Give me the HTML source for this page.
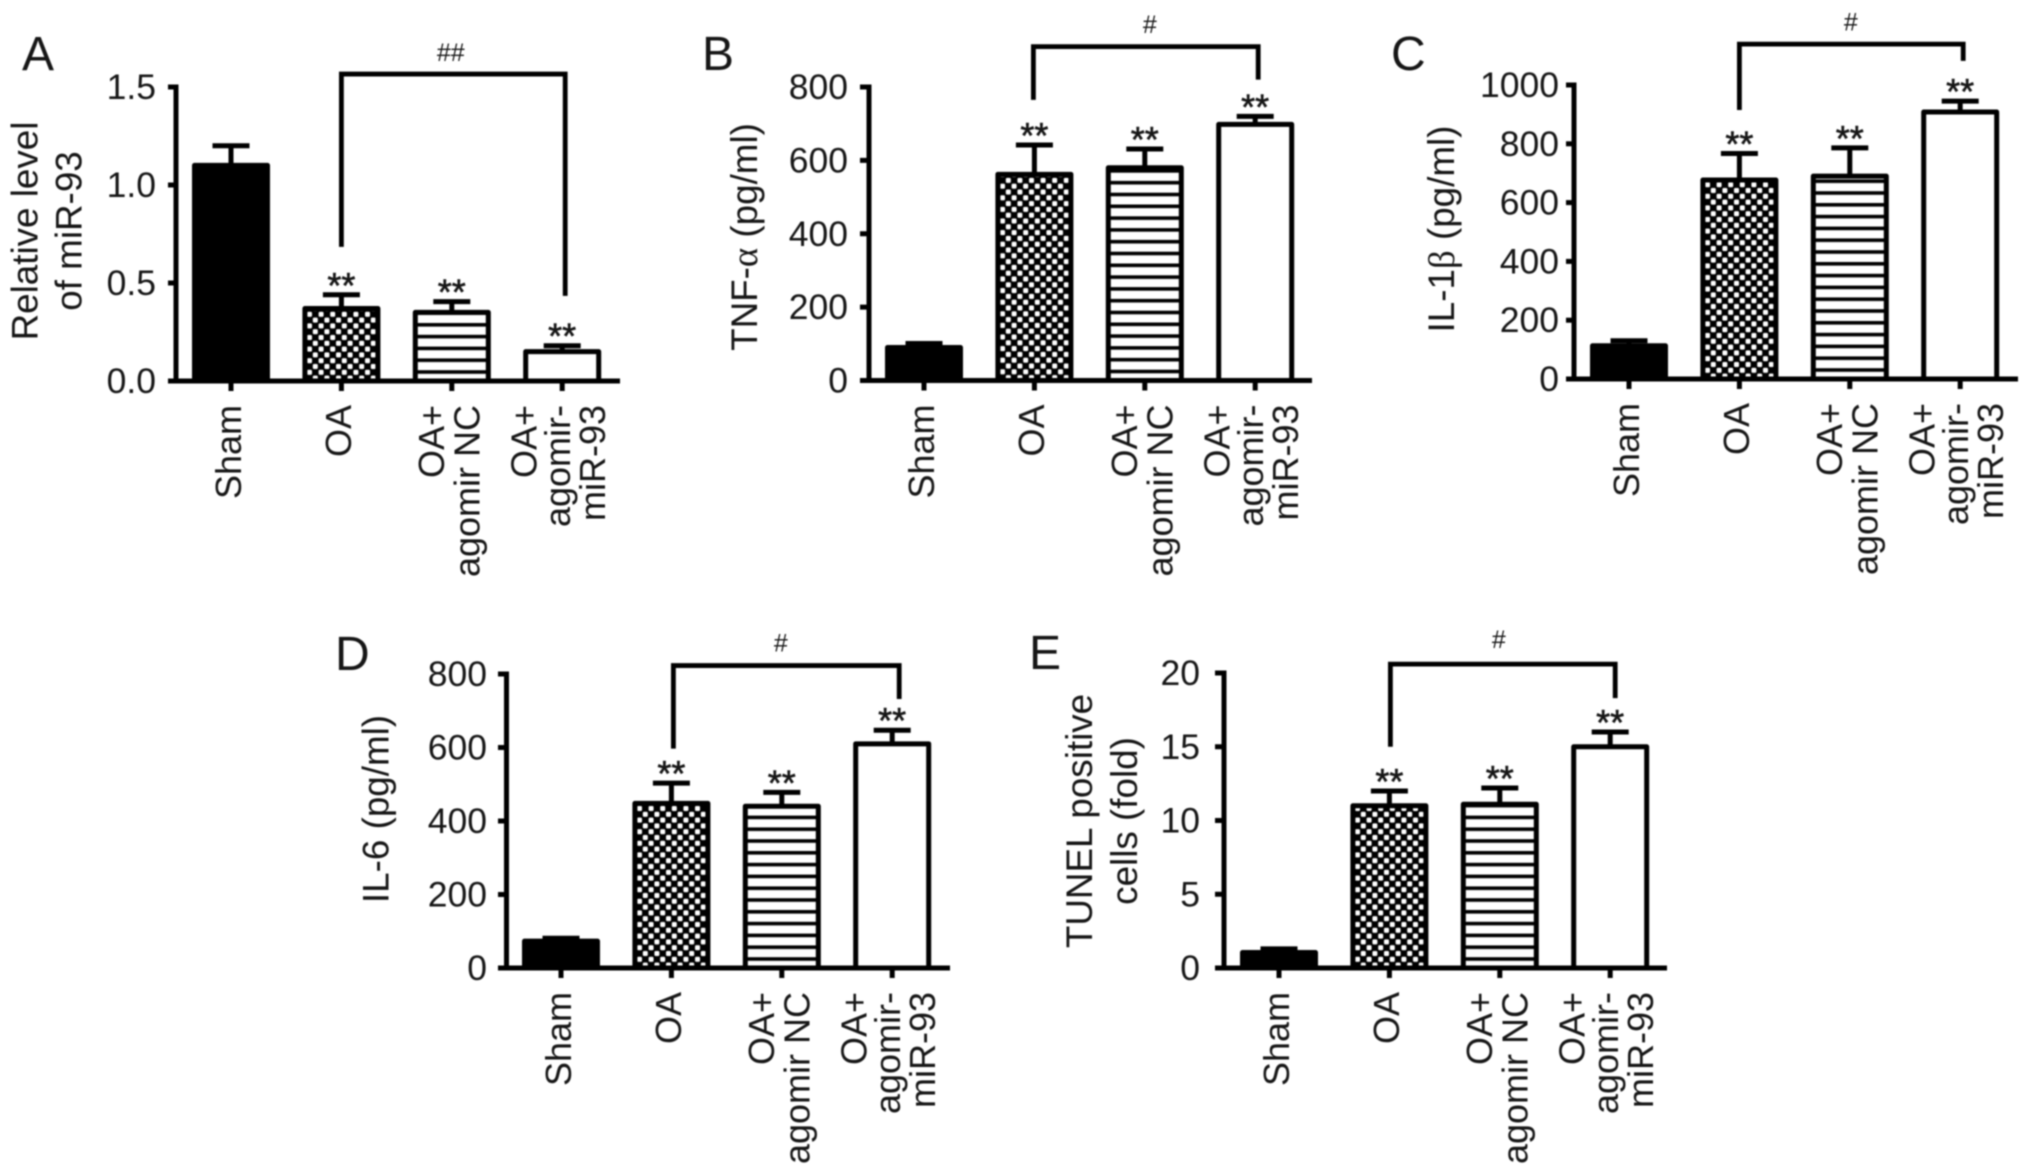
<!DOCTYPE html>
<html lang="en">
<head>
<meta charset="utf-8">
<title>miR-93 bar chart panels</title>
<style>
html,body{margin:0;padding:0;background:#fff;width:2031px;height:1175px;overflow:hidden}
svg{display:block;filter:blur(0.7px)}
text{font-family:"Liberation Sans",sans-serif;fill:#161616}
</style>
</head>
<body>
<svg id="figure" xmlns="http://www.w3.org/2000/svg" width="2031" height="1175" viewBox="0 0 2031 1175">
<rect width="2031" height="1175" fill="#fff"/>
<defs id="defs"></defs>
</svg>
<script>
// ---- chart data ----
const categoryLinesSham = ['Sham'];
const categoryLinesOA = ['OA'];
const categoryLinesNC = ['OA+', 'agomir NC'];
const categoryLinesAgomir = ['OA+', 'agomir-', 'miR-93'];

const ticksA = ['0.0', '0.5', '1.0', '1.5'];
const valuesA = [1.10, 0.37, 0.35, 0.15];
const errorTopsA = [1.20, 0.44, 0.405, 0.18];
const starsA = [false, true, true, true];
const bracketA = [1.566, 0.684, 0.434];

const ticksB = ['0', '200', '400', '600', '800'];
const valuesB = [90, 562, 580, 698];
const errorTopsB = [101, 642, 631, 720];
const starsB = [false, true, true, true];
const bracketB = [910, 765, 820];

const ticksC = ['0', '200', '400', '600', '800', '1000'];
const valuesC = [113, 677, 690, 908];
const errorTopsC = [130, 767, 786, 945];
const starsC = [false, true, true, true];
const bracketC = [1139, 915, 1082];

const ticksD = ['0', '200', '400', '600', '800'];
const valuesD = [73, 448, 440, 610];
const errorTopsD = [81, 503, 478, 647];
const starsD = [false, true, true, true];
const bracketD = [823, 597, 732];

const ticksE = ['0', '5', '10', '15', '20'];
const valuesE = [1.05, 11.0, 11.1, 15.0];
const errorTopsE = [1.3, 12.0, 12.2, 16.0];
const starsE = [false, true, true, true];
const bracketE = [20.6, 15.0, 18.3];

const categoryLines = [categoryLinesSham, categoryLinesOA, categoryLinesNC, categoryLinesAgomir];
const categorySlugs = ['sham', 'oa', 'oa-agomir-nc', 'oa-agomir-mir-93'];

// ---- panel layout ----
const panels = [
  {key:'a', letter:'A', lx:22, ly:70, ax:176, y0:381, yTop:87, xL:168, xR:620, c0:231, step:110.4,
   tickRight:156, ticks:ticksA, values:valuesA, tops:errorTopsA, stars:starsA, bracket:bracketA, mark:'##', markDx:-1, markY:61, brL:0, brR:3,
   titleY:231, title:[{x:37.5, parts:[['Relative level',0]]},{x:81.5, parts:[['of miR-93',0]]}]},
  {key:'b', letter:'B', lx:702, ly:70, ax:869, y0:380.5, yTop:87, xL:860, xR:1312, c0:924, step:110.4,
   tickRight:848, ticks:ticksB, values:valuesB, tops:errorTopsB, stars:starsB, bracket:bracketB, mark:'#', markDx:5, markY:33, brL:-1, brR:3,
   titleY:237, title:[{x:757, parts:[['TNF-',0],['α',1],[' (pg/ml)',0]]}]},
  {key:'c', letter:'C', lx:1391, ly:70, ax:1574, y0:379, yTop:85, xL:1566, xR:2018, c0:1629, step:110.4,
   tickRight:1559, ticks:ticksC, values:valuesC, tops:errorTopsC, stars:starsC, bracket:bracketC, mark:'#', markDx:1, markY:30.5, brL:0, brR:3,
   titleY:229, title:[{x:1454, parts:[['IL-1',0],['β',1],[' (pg/ml)',0]]}]},
  {key:'d', letter:'D', lx:335, ly:670, ax:506.5, y0:968, yTop:674, xL:498, xR:950, c0:561, step:110.4,
   tickRight:487, ticks:ticksD, values:valuesD, tops:errorTopsD, stars:starsD, bracket:bracketD, mark:'#', markDx:-1, markY:651.5, brL:2, brR:7,
   titleY:809, title:[{x:388.5, parts:[['IL-6 (pg/ml)',0]]}]},
  {key:'e', letter:'E', lx:1029, ly:669, ax:1224, y0:968, yTop:673, xL:1215, xR:1667, c0:1279, step:110.4,
   tickRight:1200, ticks:ticksE, values:valuesE, tops:errorTopsE, stars:starsE, bracket:bracketE, mark:'#', markDx:-1, markY:648, brL:1, brR:5,
   titleY:821, title:[{x:1092, parts:[['TUNEL positive',0]]},{x:1137, parts:[['cells (fold)',0]]}]}
];

const NS = 'http://www.w3.org/2000/svg';
const figure = document.getElementById('figure');
const defs = document.getElementById('defs');
const BAR_HALF = 36.5, STROKE = 5, CAP_HALF = 18.5;
const labelOffsets = [[10], [9.5], [-8, 27.5], [-25.5, 8, 43]];

function make(tag, attrs, parent) {
  const el = document.createElementNS(NS, tag);
  for (const k in attrs) el.setAttribute(k, attrs[k]);
  parent.appendChild(el);
  return el;
}
function line(x1, y1, x2, y2, parent) {
  return make('line', {x1:x1, y1:y1, x2:x2, y2:y2, stroke:'#000', 'stroke-width':STROKE}, parent);
}

panels.forEach(function (p) {
  const yMax = parseFloat(p.ticks[p.ticks.length - 1]);
  const yScale = function (v) { return p.y0 - (v / yMax) * (p.y0 - p.yTop); };
  const xScale = function (i) { return p.c0 + i * p.step; };

  // per-panel fill patterns anchored on the baseline
  const dots = make('pattern', {id:'dots-' + p.key, width:11.6, height:11.6, patternUnits:'userSpaceOnUse', patternTransform:'translate(' + xScale(1) + ',' + p.y0 + ')'}, defs);
  make('rect', {width:11.6, height:11.6, fill:'#000'}, dots);
  make('rect', {x:0.4, y:0.4, width:5, height:5, rx:1.4, fill:'#fff'}, dots);
  make('rect', {x:6.2, y:6.2, width:5, height:5, rx:1.4, fill:'#fff'}, dots);
  const stripes = make('pattern', {id:'stripes-' + p.key, width:20, height:11.8, patternUnits:'userSpaceOnUse', patternTransform:'translate(0,' + (p.y0 + 1) + ')'}, defs);
  make('rect', {width:20, height:11.8, fill:'#fff'}, stripes);
  make('rect', {y:0, width:20, height:3.6, fill:'#000'}, stripes);
  const fills = ['#000', 'url(#dots-' + p.key + ')', 'url(#stripes-' + p.key + ')', '#fff'];

  const g = make('g', {}, figure);
  
  

  const letter = make('text', {x:p.lx, y:p.ly, 'font-size':48}, g);
  
  
  letter.textContent = p.letter;

  // y axis title
  p.title.forEach(function (t, i) {
    const title = make('text', {transform:'translate(' + t.x + ',' + p.titleY + ') rotate(-90)', 'text-anchor':'middle', 'font-size':36.8, style:'white-space:pre'}, g);
    
    
    t.parts.forEach(function (part) {
      const span = make('tspan', part[1] ? {style:'font-family:"Liberation Serif",serif'} : {}, title);
      span.textContent = part[0];
    });
  });

  // bars and error bars
  p.values.forEach(function (v, i) {
    const cx = xScale(i), top = yScale(v), errTop = yScale(p.tops[i]);
    const stem = line(cx, top, cx, errTop, g);
    
    
    const cap = line(cx - CAP_HALF, errTop, cx + CAP_HALF, errTop, g);
    
    
    const bar = make('rect', {x:cx - BAR_HALF, y:top, width:BAR_HALF * 2, height:p.y0 - top, fill:fills[i], stroke:'#000', 'stroke-width':STROKE, 'stroke-linejoin':'round'}, g);
    
    
    if (p.stars[i]) {
      const star = make('text', {x:cx, y:errTop + 3, 'text-anchor':'middle', 'font-size':36, stroke:'#161616', 'stroke-width':0.6}, g);
      
      
      star.textContent = '**';
    }
  });

  // axes
  const yAxis = line(p.ax, p.yTop - 2.5, p.ax, p.y0, g);
  
  
  const xAxis = line(p.xL, p.y0, p.xR, p.y0, g);
  
  

  p.ticks.forEach(function (label) {
    const ty = yScale(parseFloat(label));
    const tick = line(p.xL, ty, p.ax, ty, g);
    
    
    const text = make('text', {x:p.tickRight, y:ty + 12, 'text-anchor':'end', 'font-size':35.5}, g);
    
    
    text.textContent = label;
  });

  categoryLines.forEach(function (lines, i) {
    const cx = xScale(i);
    const tick = line(cx, p.y0, cx, p.y0 + 10, g);
    
    
    lines.forEach(function (str, j) {
      const bx = cx + labelOffsets[i][j];
      const text = make('text', {transform:'translate(' + bx + ',' + (p.y0 + 24) + ') rotate(-90)', 'text-anchor':'end', 'font-size':36}, g);
      
      
      text.textContent = str;
    });
  });

  // comparison bracket: OA to OA + agomir-miR-93
  const bx1 = xScale(1) + p.brL, bx2 = xScale(3) + p.brR;
  const by = yScale(p.bracket[0]);
  const bracket = make('path', {d:'M' + bx1 + ' ' + yScale(p.bracket[1]) + 'V' + by + 'H' + bx2 + 'V' + yScale(p.bracket[2]), fill:'none', stroke:'#000', 'stroke-width':4.8}, g);
  
  
  const mark = make('text', {x:(xScale(1) + xScale(3)) / 2 + p.markDx, y:p.markY, 'text-anchor':'middle', 'font-size':25}, g);
  
  
  mark.textContent = p.mark;
});
</script>
</body>
</html>
